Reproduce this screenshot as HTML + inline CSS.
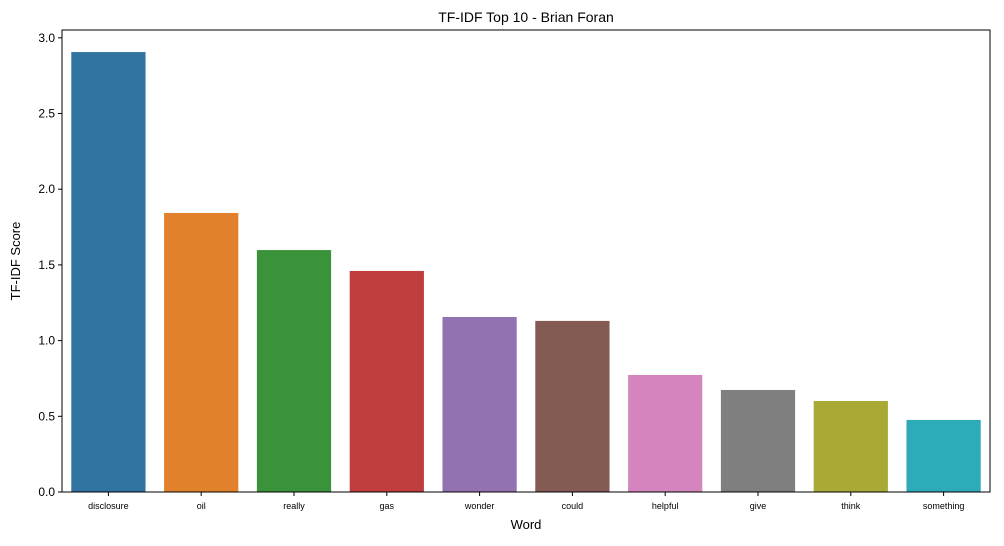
<!DOCTYPE html>
<html><head><meta charset="utf-8"><style>
body{margin:0;background:#fff;font-family:"Liberation Sans","DejaVu Sans",sans-serif;}
</style></head><body>
<svg id="chart" width="1004" height="541" xmlns="http://www.w3.org/2000/svg">
<text x="526" y="22" text-anchor="middle" font-size="14">TF-IDF Top 10 - Brian Foran</text>
<g id="bars"></g>
<g id="yticks"></g>
<g id="xticks"></g>
<rect x="62" y="30" width="928" height="462" fill="none" stroke="#000" stroke-width="1"/>
<text x="526" y="529" text-anchor="middle" font-size="13">Word</text>
<text transform="translate(20,261) rotate(-90)" text-anchor="middle" font-size="13">TF-IDF Score</text>
</svg>
<script>
const categories=["disclosure","oil","really","gas","wonder","could","helpful","give","think","something"];
const values=[2.906,1.843,1.598,1.46,1.156,1.13,0.773,0.674,0.601,0.476];
const colors=["#3274a1","#e1812c","#3a923a","#c03d3e","#9372b2","#845b53","#d684bd","#7f7f7f","#a9aa35","#2eabb8"];
const yTicks=[0,0.5,1.0,1.5,2.0,2.5,3.0];
const yTickLabels=["0.0","0.5","1.0","1.5","2.0","2.5","3.0"];
const ns="http://www.w3.org/2000/svg";
const L=62,R=990,B=492;
const y=v=>B-v*151.4;
const step=(R-L)/categories.length;
const x=i=>L+step*(i+0.5);
const bw=step*0.8;
const bars=document.getElementById('bars'),xt=document.getElementById('xticks'),yt=document.getElementById('yticks');
categories.forEach((c,i)=>{
 const r=document.createElementNS(ns,'rect');
 r.setAttribute('x',x(i)-bw/2);r.setAttribute('y',y(values[i]));
 r.setAttribute('width',bw);r.setAttribute('height',B-y(values[i]));
 r.setAttribute('fill',colors[i]);
 
 
 bars.appendChild(r);
 const t=document.createElementNS(ns,'line');
 t.setAttribute('x1',x(i));t.setAttribute('x2',x(i));t.setAttribute('y1',B);t.setAttribute('y2',B+4);t.setAttribute('stroke','#000');
 
 
 xt.appendChild(t);
 const l=document.createElementNS(ns,'text');
 l.setAttribute('x',x(i));l.setAttribute('y',B+17);l.setAttribute('text-anchor','middle');l.setAttribute('font-size','9');
 l.textContent=c;
 
 
 xt.appendChild(l);
});
yTicks.forEach((v,i)=>{
 const t=document.createElementNS(ns,'line');
 t.setAttribute('x1',L-4);t.setAttribute('x2',L);t.setAttribute('y1',y(v));t.setAttribute('y2',y(v));t.setAttribute('stroke','#000');
 
 
 yt.appendChild(t);
 const l=document.createElementNS(ns,'text');
 l.setAttribute('x',L-7);l.setAttribute('y',y(v)+4);l.setAttribute('text-anchor','end');l.setAttribute('font-size','12');
 l.textContent=yTickLabels[i];
 
 
 yt.appendChild(l);
});
</script>
</body></html>
